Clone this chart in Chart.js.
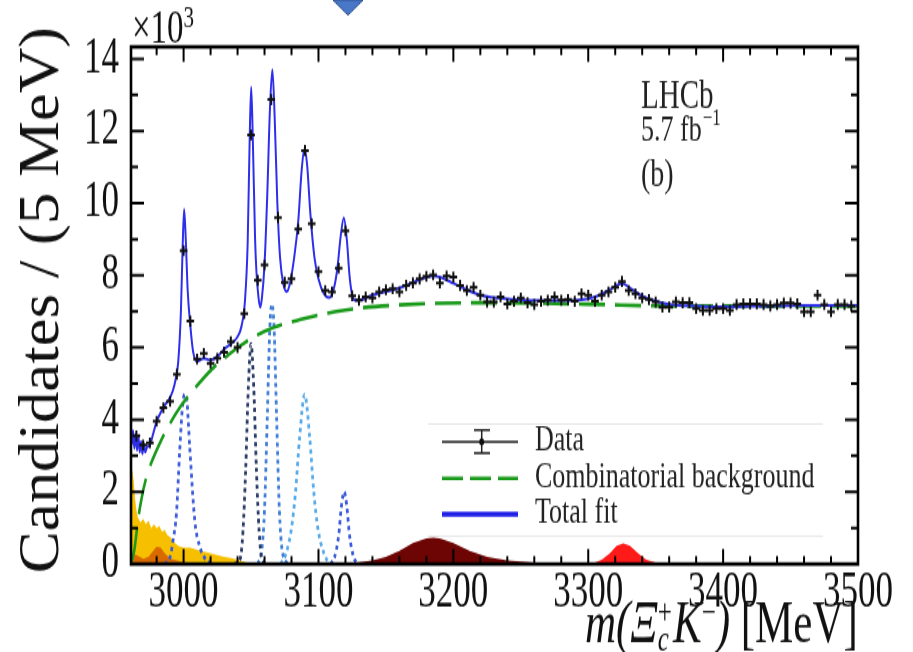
<!DOCTYPE html>
<html>
<head>
<meta charset="utf-8">
<script src="https://cdn.jsdelivr.net/npm/chart.js@4.4.1/dist/chart.umd.min.js"></script>
<style>
  html, body { margin: 0; padding: 0; background: #fff; }
  #plot { display: block; }
</style>
</head>
<body>
<!-- the reference picture is stretched vertically, so the canvas is too -->
<canvas id="plot" width="913" height="459" style="width:913px;height:652px"></canvas>
<script>
// bin centres [MeV] and candidates per 5 MeV [x10^3]
const massBins = [2965, 2970, 2975, 2980, 2985, 2990, 2995, 3000, 3005, 3010,
    3015, 3020, 3025, 3030, 3035, 3040, 3045, 3050, 3055, 3060,
    3065, 3070, 3075, 3080, 3085, 3090, 3095, 3100, 3105, 3110,
    3115, 3120, 3125, 3130, 3135, 3140, 3145, 3150, 3155, 3160,
    3165, 3170, 3175, 3180, 3185, 3190, 3195, 3200, 3205, 3210,
    3215, 3220, 3225, 3230, 3235, 3240, 3245, 3250, 3255, 3260,
    3265, 3270, 3275, 3280, 3285, 3290, 3295, 3300, 3305, 3310,
    3315, 3320, 3325, 3330, 3335, 3340, 3345, 3350, 3355, 3360,
    3365, 3370, 3375, 3380, 3385, 3390, 3395, 3400, 3405, 3410,
    3415, 3420, 3425, 3430, 3435, 3440, 3445, 3450, 3455, 3460,
    3465, 3470, 3475, 3480, 3485, 3490, 3495];
const candidates = [3.55, 3.30, 3.36, 3.96, 4.33, 4.51, 5.26, 8.68, 6.73, 5.68,
    5.84, 5.56, 5.70, 5.87, 6.16, 6.00, 6.94, 11.89, 7.86, 8.29,
    12.87, 9.60, 7.81, 7.90, 9.28, 11.46, 9.43, 8.10, 7.58, 7.54,
    8.20, 9.23, 7.43, 7.31, 7.40, 7.37, 7.54, 7.60, 7.63, 7.54,
    7.72, 7.79, 7.90, 7.97, 8.01, 7.79, 7.98, 7.95, 7.72, 7.58,
    7.67, 7.45, 7.26, 7.26, 7.40, 7.21, 7.28, 7.37, 7.24, 7.19,
    7.28, 7.31, 7.40, 7.31, 7.33, 7.28, 7.49, 7.45, 7.28, 7.45,
    7.54, 7.67, 7.83, 7.58, 7.49, 7.37, 7.33, 7.26, 7.12, 7.12,
    7.26, 7.24, 7.24, 7.08, 7.03, 7.03, 7.08, 7.08, 7.03, 7.19,
    7.21, 7.21, 7.21, 7.19, 7.15, 7.19, 7.23, 7.23, 7.21, 6.99,
    6.99, 7.45, 7.19, 6.99, 7.19, 7.19, 7.15];

// total fit [mass, value]
const totalFit = [[2961.5, 3.3], [2962.5, 3.7], [2963.5, 3.2], [2964.5, 3.6], [2965.5, 3.15],
    [2966.5, 3.55], [2967.5, 3.1], [2968.5, 3.4], [2969.5, 3.05], [2970.5, 3.35], [2971.5, 3.1],
    [2973, 3.25], [2975, 3.3], [2977, 3.55], [2980, 3.95], [2983, 4.2], [2986, 4.4], [2989, 4.55],
    [2992, 4.8], [2994, 5.1], [2996, 5.6], [2998, 7.0], [2999.3, 8.8], [3000.4, 9.83], [3001.6, 9.0],
    [3003, 7.6], [3005, 6.6], [3007, 5.9], [3010, 5.62], [3015, 5.7], [3020, 5.65], [3025, 5.75],
    [3030, 5.95], [3035, 6.1], [3040, 6.3], [3043, 6.6], [3045.5, 7.3], [3047.5, 8.9], [3049, 11.8],
    [3050.1, 13.22], [3051.3, 11.8], [3053, 9.0], [3054, 8.1], [3055.5, 7.4], [3056.8, 7.12],
    [3058, 7.35], [3060, 8.3], [3062, 10.2], [3064, 12.6], [3065.8, 13.7], [3067.5, 12.4],
    [3069.5, 10.0], [3071.5, 8.5], [3074, 7.75], [3076.5, 7.55], [3079, 7.8], [3082, 8.5],
    [3085, 9.5], [3087.5, 10.9], [3089.5, 11.5], [3091.5, 11.1], [3094, 9.7], [3097, 8.5],
    [3100, 7.9], [3104, 7.5], [3108, 7.38], [3111.5, 7.65], [3114, 8.2], [3116.5, 9.1],
    [3118.8, 9.6], [3121, 9.0], [3123, 8.0], [3125, 7.45], [3127.5, 7.3], [3132, 7.32],
    [3140, 7.45], [3150, 7.55], [3160, 7.65], [3170, 7.8], [3178, 7.92], [3185, 7.98],
    [3192, 7.92], [3200, 7.78], [3210, 7.6], [3220, 7.45], [3230, 7.38], [3245, 7.33],
    [3260, 7.3], [3280, 7.3], [3295, 7.32], [3305, 7.4], [3315, 7.58], [3325, 7.78],
    [3332, 7.62], [3340, 7.42], [3350, 7.28], [3360, 7.2], [3380, 7.15], [3400, 7.13],
    [3430, 7.15], [3460, 7.17], [3500, 7.17]];

// combinatorial background
const combBkg = [[2961, 0], [2963.5, 0.4], [2966.5, 1.3], [2969, 1.85], [2972, 2.35], [2976, 2.8],
    [2983, 3.4], [2990, 3.9], [2997, 4.33], [3009, 4.9], [3021, 5.4], [3033, 5.79], [3044, 6.1],
    [3060, 6.45], [3086, 6.77], [3120, 7.04], [3160, 7.18], [3220, 7.24], [3300, 7.2],
    [3360, 7.15], [3500, 7.15]];

// signal components (dotted)
const sig3000 = [[2986, 0], [2990, 0.2], [2992.2, 0.66], [2994.7, 1.4], [2997.2, 3.2], [2999.5, 4.5],
    [3001, 4.7], [3002.5, 4.5], [3004.6, 3.2], [3008.3, 1.2], [3012, 0.48], [3017, 0.1], [3022, 0]];
const sig3050 = [[3038, 0], [3042, 0.15], [3044, 0.9], [3046, 2.6], [3048, 4.9], [3050, 6.1],
    [3052, 4.9], [3054, 2.6], [3056, 0.9], [3058, 0.15], [3062, 0]];
const sig3066 = [[3055, 0], [3058, 0.4], [3060, 1.5], [3062, 4.0], [3064, 6.6], [3065.5, 7.2],
    [3067, 6.6], [3069, 4.0], [3071, 1.5], [3073, 0.4], [3077, 0]];
const sig3090 = [[3072, 0], [3076, 0.3], [3080, 1.0], [3083, 2.0], [3086, 3.5], [3089.8, 4.69],
    [3093.5, 3.5], [3096.5, 2.0], [3099.5, 1.0], [3104, 0.3], [3108, 0]];
const sig3119 = [[3109, 0], [3112, 0.2], [3115, 0.8], [3117, 1.6], [3119, 2.0], [3121, 1.6],
    [3123, 0.8], [3126, 0.2], [3129, 0]];

// filled backgrounds
const partRecoA = [[2961, 2.55], [2962, 2.6], [2963, 2.3], [2964, 1.8], [2965, 1.5], [2966, 1.3],
    [2968, 1.15], [2970, 1.25], [2972, 1.1], [2974, 1.2], [2976, 1.0], [2978, 1.1], [2980, 1.0],
    [2982, 1.05], [2984, 0.9], [2986, 0.95], [2988, 0.8], [2990, 0.75], [2993, 0.6], [2996, 0.5],
    [3000, 0.45], [3005, 0.45], [3010, 0.4], [3015, 0.35], [3020, 0.3], [3025, 0.25], [3030, 0.2],
    [3035, 0.17], [3040, 0.12], [3045, 0.06], [3050, 0]];
const partRecoB = [[2961, 0.3], [2965, 0.25], [2970, 0.15], [2974, 0.2], [2977, 0.35], [2980, 0.48],
    [2983, 0.45], [2986, 0.3], [2990, 0.15], [2995, 0.1], [3000, 0.05], [3010, 0.02], [3020, 0]];
const broadBump = [[3120, 0.02], [3130, 0.05], [3140, 0.1], [3150, 0.2], [3160, 0.37], [3170, 0.58],
    [3180, 0.71], [3185, 0.73], [3190, 0.71], [3200, 0.58], [3212, 0.37], [3225, 0.2], [3240, 0.1],
    [3260, 0.04], [3280, 0.01], [3300, 0]];
const narrowBump = [[3300, 0], [3305, 0.04], [3310, 0.12], [3316, 0.3], [3321, 0.5], [3326, 0.57],
    [3331, 0.5], [3337, 0.3], [3343, 0.12], [3350, 0.04], [3358, 0]];

const xTickLabels = [3000, 3100, 3200, 3300, 3400, 3500];
const yTickLabels = [0, 2, 4, 6, 8, 10, 12, 14];

const S = 652 / 459;            // vertical stretch of the picture
const fy = v => v / S;          // picture y -> canvas y
const serif = '"Liberation Serif", "Times New Roman", serif';
const pts = arr => arr.map(p => ({ x: p[0], y: p[1] }));

function curve(data, color, dash, width) {
    return {
        data: pts(data), borderColor: color, borderWidth: width, borderDash: dash,
        pointRadius: 0, fill: false, cubicInterpolationMode: 'monotone'
    };
}
function area(data, color) {
    return {
        data: pts(data), borderColor: color, backgroundColor: color, borderWidth: 0,
        pointRadius: 0, fill: 'origin', tension: 0
    };
}

const decor = {
    id: 'decor',
    afterDatasetsDraw(chart) {
        const { ctx, chartArea: a, scales: { x, y } } = chart;
        ctx.save();
        ctx.strokeStyle = '#000';
        ctx.lineWidth = 2;
        ctx.beginPath();
        for (let v = 2980; v <= 3500; v += 20) {
            const px = x.getPixelForValue(v);
            const len = v % 100 === 0 ? fy(15) : fy(8);
            ctx.moveTo(px, a.bottom); ctx.lineTo(px, a.bottom - len);
            ctx.moveTo(px, a.top); ctx.lineTo(px, a.top + len);
        }
        for (let v = 0; v <= 14; v++) {
            const py = y.getPixelForValue(v);
            const len = v % 2 === 0 ? 13 : 7;
            ctx.moveTo(a.left, py); ctx.lineTo(a.left + len, py);
            ctx.moveTo(a.right, py); ctx.lineTo(a.right - len, py);
        }
        ctx.stroke();
        ctx.lineWidth = 2.6;
        ctx.strokeRect(a.left, a.top, a.right - a.left, a.bottom - a.top);

        // legend
        ctx.strokeStyle = '#e4e4e4';
        ctx.lineWidth = 1;
        ctx.beginPath();
        ctx.moveTo(428, fy(424)); ctx.lineTo(823, fy(424));
        ctx.moveTo(428, fy(536)); ctx.lineTo(823, fy(536));
        ctx.stroke();

        ctx.strokeStyle = '#222';
        ctx.lineWidth = 1.5;
        ctx.beginPath();
        ctx.moveTo(442, fy(441.7)); ctx.lineTo(518, fy(441.7));
        ctx.moveTo(481.7, fy(430)); ctx.lineTo(481.7, fy(453));
        ctx.moveTo(474, fy(430)); ctx.lineTo(490, fy(430));
        ctx.moveTo(474, fy(453)); ctx.lineTo(490, fy(453));
        ctx.stroke();
        ctx.fillStyle = '#111';
        ctx.beginPath(); ctx.arc(481.7, fy(441.7), 2.5, 0, Math.PI * 2); ctx.fill();

        ctx.strokeStyle = '#1a9a1a';
        ctx.lineWidth = 2.6;
        ctx.setLineDash([21, 7]);
        ctx.beginPath(); ctx.moveTo(442, fy(478.3)); ctx.lineTo(518, fy(478.3)); ctx.stroke();
        ctx.setLineDash([]);
        ctx.strokeStyle = '#1e1ee6';
        ctx.lineWidth = 3.4;
        ctx.beginPath(); ctx.moveTo(442, fy(514.3)); ctx.lineTo(518, fy(514.3)); ctx.stroke();

        ctx.fillStyle = '#222';
        ctx.font = `26px ${serif}`;
        ctx.textBaseline = 'alphabetic';
        ctx.fillText('Data', 535, fy(450));
        ctx.fillText('Combinatorial background', 535, fy(487));
        ctx.fillText('Total fit', 535, fy(523));

        // LHCb label
        ctx.font = `29px ${serif}`;
        ctx.fillText('LHCb', 641, fy(108));
        ctx.font = `26px ${serif}`;
        ctx.fillText('5.7 fb', 641, fy(141));
        const w = ctx.measureText('5.7 fb').width;
        ctx.font = `17px ${serif}`;
        ctx.fillText('\u22121', 641 + w + 1, fy(125));
        ctx.font = `28px ${serif}`;
        ctx.fillText('(b)', 641, fy(186));
        ctx.restore();
    },
    afterDraw(chart) {
        const { ctx } = chart;
        ctx.save();
        ctx.fillStyle = '#111';
        ctx.textBaseline = 'alphabetic';

        // x10^3
        ctx.font = `33px ${serif}`;
        ctx.fillText('\u00d710', 132, fy(42));
        const w = ctx.measureText('\u00d710').width;
        ctx.font = `21px ${serif}`;
        ctx.fillText('3', 132 + w, fy(27));

        // y title (wider glyphs than the stretch alone gives)
        ctx.save();
        ctx.translate(58, fy(300));
        ctx.rotate(-Math.PI / 2);
        ctx.scale(0.79, 1);
        ctx.textAlign = 'center';
        ctx.font = `56px ${serif}`;
        ctx.fillText('Candidates / (5 MeV)', 0, 0);
        ctx.restore();

        // x title: m(Xi_c^+ K^-) [MeV]
        const base = fy(642);
        const it = `italic 43px ${serif}`, rm = `43px ${serif}`, sm = `25px ${serif}`, smi = `italic 25px ${serif}`;
        let cx = 585;
        const put = (t, f, dy) => {
            ctx.font = f; ctx.fillText(t, cx, base + (dy || 0));
            return ctx.measureText(t).width;
        };
        cx += put('m(\u039e', it);
        const wp = put('+', sm, -fy(19));
        const wc = put('c', smi, fy(8));
        cx += Math.max(wp, wc) + 1;
        cx += put('K', it);
        cx += put('\u2212', sm, -fy(19));
        cx += put(')', it);
        put(' [MeV]', rm);

        // blue marker at top of the picture
        ctx.fillStyle = '#4a78c8';
        ctx.strokeStyle = '#2f528f';
        ctx.lineWidth = 1;
        ctx.beginPath();
        ctx.moveTo(333, 0); ctx.lineTo(363, 0); ctx.lineTo(348, fy(15)); ctx.closePath();
        ctx.fill(); ctx.stroke();
        ctx.restore();
    }
};

new Chart(document.getElementById('plot').getContext('2d'), {
    type: 'line',
    data: {
        datasets: [
            {
                data: massBins.map((m, i) => ({ x: m, y: candidates[i] })),
                showLine: false, pointStyle: 'cross', pointRadius: 3.8,
                pointBorderWidth: 2, borderColor: '#111', backgroundColor: '#111'
            },
            curve(totalFit, '#2f2feb', [], 2),
            curve(combBkg, '#1a9a1a', [26, 10], 2.6),
            curve(sig3000, '#3a5ad8', [3, 3], 2.8),
            curve(sig3050, '#2b3a66', [3, 3], 2.8),
            curve(sig3066, '#3e7ed6', [3, 3], 2.8),
            curve(sig3090, '#56aaea', [3, 3], 2.8),
            curve(sig3119, '#3a5ad8', [3, 3], 2.8),
            area(narrowBump, '#ff1a1a'),
            area(broadBump, '#6e0505'),
            area(partRecoB, '#d86a00'),
            area(partRecoA, '#f6c000')
        ]
    },
    options: {
        responsive: false,
        animation: false,
        devicePixelRatio: 1,
        layout: { padding: { top: fy(43), right: 55, left: 0, bottom: 0 } },
        plugins: { legend: { display: false }, tooltip: { enabled: false } },
        scales: {
            x: {
                type: 'linear', min: 2961, max: 3500,
                grid: { display: false, drawTicks: false },
                border: { display: false },
                ticks: {
                    font: { family: serif, size: 35 }, color: '#111', padding: 0,
                    maxRotation: 0, autoSkip: false, callback: v => String(v)
                },
                afterBuildTicks: s => { s.ticks = xTickLabels.map(v => ({ value: v })); },
                afterFit: s => { s.height = fy(652 - 564); }
            },
            y: {
                min: 0, max: 14.33,
                grid: { display: false, drawTicks: false },
                border: { display: false },
                ticks: {
                    font: { family: serif, size: 35 }, color: '#111', padding: 12,
                    autoSkip: false, callback: v => String(v)
                },
                afterBuildTicks: s => { s.ticks = yTickLabels.map(v => ({ value: v })); },
                afterFit: s => { s.width = 131; }
            }
        }
    },
    plugins: [decor]
});
</script>
</body>
</html>
